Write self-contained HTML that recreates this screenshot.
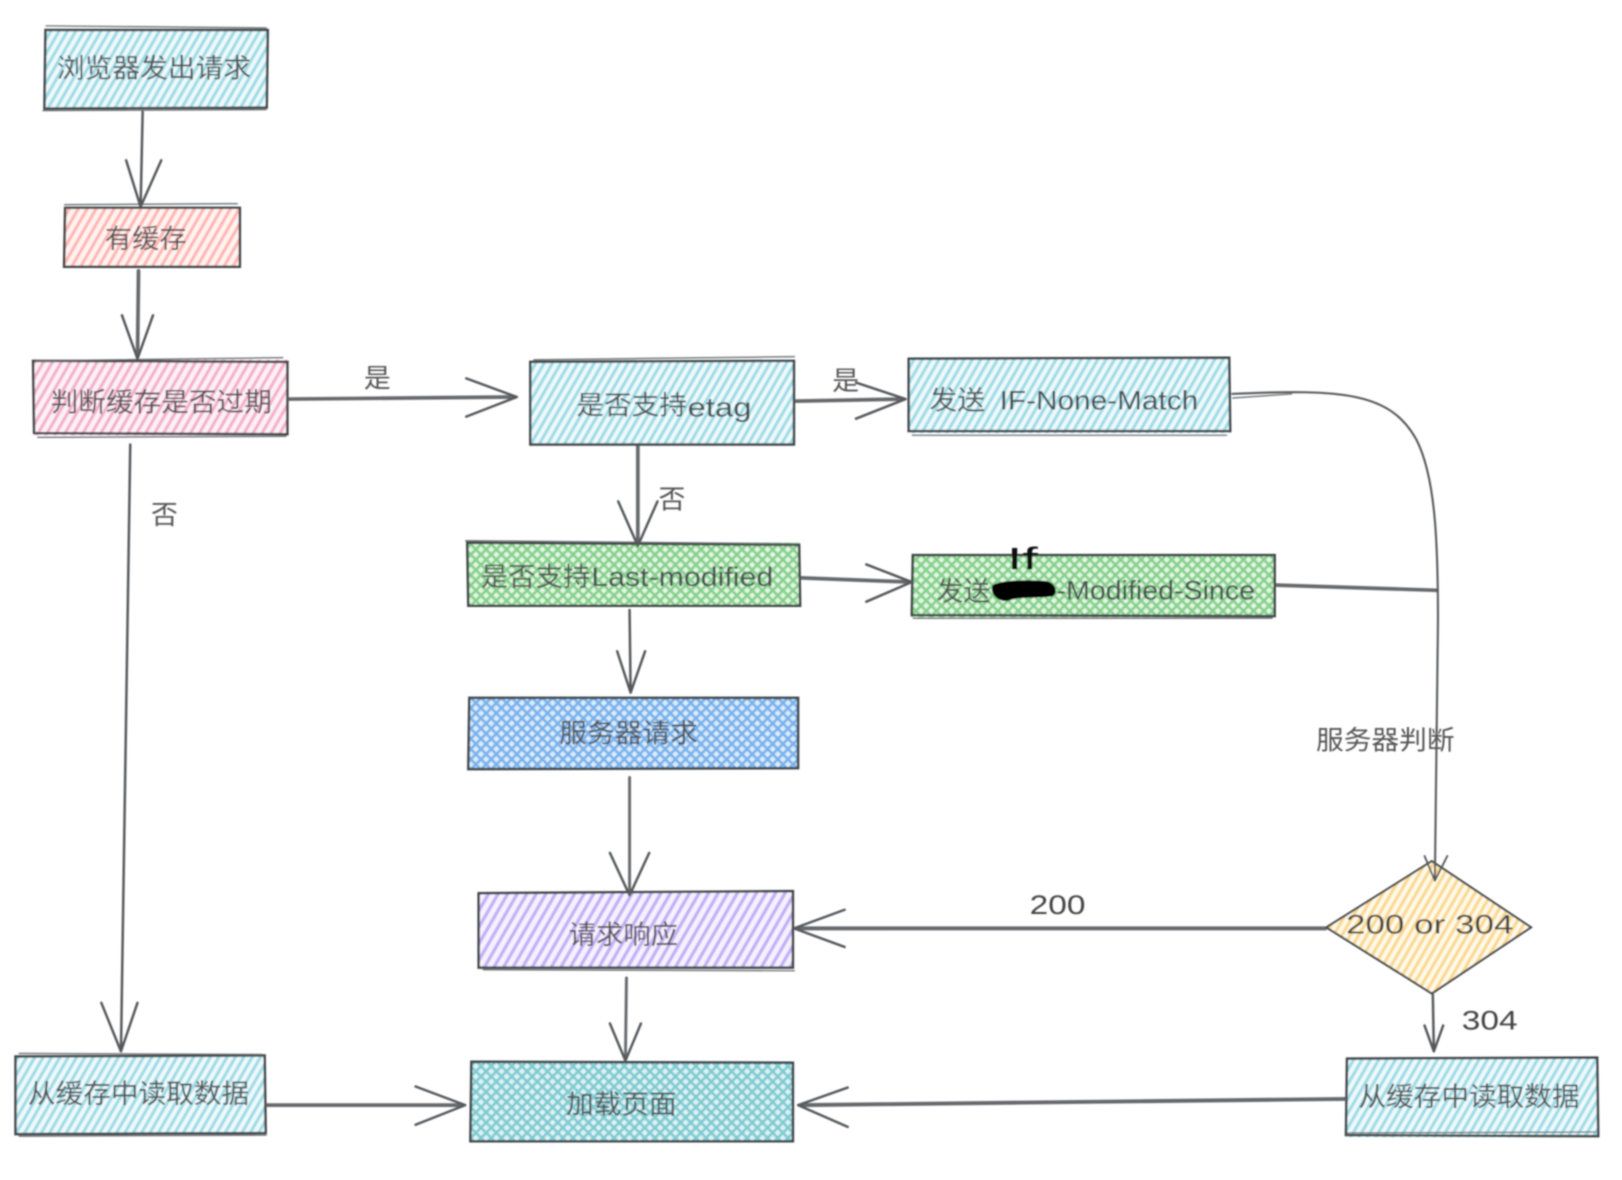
<!DOCTYPE html>
<html lang="zh">
<head>
<meta charset="utf-8">
<title>浏览器缓存流程</title>
<style>
html,body{margin:0;padding:0;background:#fff;width:1622px;height:1180px;overflow:hidden}
svg{display:block}
text{font-family:"Liberation Sans","Noto Sans CJK SC",sans-serif;fill:#555;font-size:26px;text-anchor:middle}
.h{font-family:"Liberation Sans","Noto Sans CJK SC",sans-serif;fill:#4a4d50}
.b{fill:none;stroke:#3f4447;stroke-width:2.4}
.c{fill:none;stroke:#6b6f72;stroke-width:1.3}
.a{fill:none;stroke:#55595c;stroke-width:2.4;stroke-linecap:round;stroke-linejoin:round}
.t{fill:none;stroke:#55595c;stroke-width:3.6;stroke-linecap:round;stroke-linejoin:round;opacity:.9}
</style>
</head>
<body>
<svg xmlns="http://www.w3.org/2000/svg" width="1622" height="1180" viewBox="0 0 1569 1141.4">
<defs>
<filter id="soft" x="-2%" y="-2%" width="104%" height="104%"><feGaussianBlur stdDeviation="0.7"/></filter>
<pattern id="cy" width="7" height="7" patternUnits="userSpaceOnUse" patternTransform="rotate(30)"><rect width="7" height="7" fill="#eef9fb"/><rect width="3" height="7" fill="#9fdbe7"/></pattern>
<pattern id="rd" width="7.5" height="7.5" patternUnits="userSpaceOnUse" patternTransform="rotate(30)"><rect width="7.5" height="7.5" fill="#fff3f2"/><rect width="3" height="7.5" fill="#ffb6b0"/></pattern>
<pattern id="pk" width="7.5" height="7.5" patternUnits="userSpaceOnUse" patternTransform="rotate(30)"><rect width="7.5" height="7.5" fill="#fdf1f5"/><rect width="3" height="7.5" fill="#f3b0ca"/></pattern>
<pattern id="pu" width="8" height="8" patternUnits="userSpaceOnUse" patternTransform="rotate(30)"><rect width="8" height="8" fill="#f5f1fe"/><rect width="3.2" height="8" fill="#c3b0f5"/></pattern>
<pattern id="ye" width="7" height="7" patternUnits="userSpaceOnUse" patternTransform="rotate(30)"><rect width="7" height="7" fill="#fff9ea"/><rect width="3" height="7" fill="#fad88e"/></pattern>
<pattern id="gr" width="7" height="7" patternUnits="userSpaceOnUse" patternTransform="rotate(45)"><rect width="7" height="7" fill="#e2f6e3"/><rect width="2.6" height="7" fill="#86d08c"/><rect width="7" height="2.6" fill="#86d08c"/></pattern>
<pattern id="bl" width="7" height="7" patternUnits="userSpaceOnUse" patternTransform="rotate(45)"><rect width="7" height="7" fill="#dcebfb"/><rect width="2.6" height="7" fill="#78b2ec"/><rect width="7" height="2.6" fill="#78b2ec"/></pattern>
<pattern id="te" width="7" height="7" patternUnits="userSpaceOnUse" patternTransform="rotate(45)"><rect width="7" height="7" fill="#def2f4"/><rect width="2.6" height="7" fill="#7fcbd2"/><rect width="7" height="2.6" fill="#7fcbd2"/></pattern>
</defs>
<rect width="1569" height="1142" fill="#fff"/>
<g filter="url(#soft)">

<!-- fills -->
<rect x="43" y="28" width="216" height="77" fill="url(#cy)"/>
<rect x="62" y="200" width="170" height="58" fill="url(#rd)"/>
<rect x="32" y="348" width="246" height="73" fill="url(#pk)"/>
<rect x="512" y="349" width="256" height="81" fill="url(#cy)"/>
<rect x="879" y="346" width="311" height="73" fill="url(#cy)"/>
<rect x="452" y="525" width="322" height="61" fill="url(#gr)"/>
<rect x="882" y="536" width="351" height="61" fill="url(#gr)"/>
<rect x="453" y="674" width="319" height="70" fill="url(#bl)"/>
<rect x="463" y="863" width="304" height="73" fill="url(#pu)"/>
<rect x="15" y="1021" width="241" height="76" fill="url(#cy)"/>
<rect x="456" y="1027" width="311" height="77" fill="url(#te)"/>
<rect x="1302" y="1024" width="243" height="76" fill="url(#cy)"/>
<polygon points="1283,897 1385,833 1481,897 1385,961" fill="url(#ye)"/>

<!-- borders -->
<path class="b" d="M44,29 L259,29 L258,104 L43,105 Z"/><path class="c" d="M44,25 L258,27 M41,107 L258,106"/>
<path class="b" d="M63,201 L232,201 L232,258 L62,258 Z"/><path class="c" d="M62,198 L230,197"/>
<path class="b" d="M32,349 L278,350 L278,420 L33,419 Z"/><path class="c" d="M34,349 L274,346 M36,423 L277,422"/>
<path class="b" d="M513,350 L768,349 L768,430 L513,430 Z"/><path class="c" d="M516,348 L769,345"/>
<path class="b" d="M879,347 L1189,346 L1190,417 L879,417 Z"/><path class="c" d="M882,421 L1187,421"/>
<path class="b" d="M452,525 L773,527 L774,586 L453,586 Z"/><path class="c" d="M450,523 L770,526"/>
<path class="b" d="M883,537 L1233,537 L1233,596 L882,595 Z"/><path class="c" d="M883,598 L1231,598"/>
<path class="b" d="M454,675 L772,675 L772,743 L453,744 Z"/>
<path class="b" d="M463,864 L767,862 L767,936 L463,936 Z"/><path class="c" d="M467,938 L769,939"/>
<path class="b" d="M15,1022 L256,1021 L257,1096 L15,1097 Z"/><path class="c" d="M18,1019 L254,1020 M18,1099 L258,1098"/>
<path class="b" d="M456,1027 L767,1028 L767,1104 L455,1104 Z"/>
<path class="b" d="M1303,1024 L1545,1023 L1546,1099 L1302,1098 Z"/><path class="c" d="M1303,1096 L1544,1095"/>
<path class="b" d="M1283,897 L1385,833 L1481,897 L1385,961 Z" style="stroke-width:2"/>

<!-- connectors -->
<path class="a" d="M138,108 L136,200 M122,155 L136,200 L156,155"/>
<path class="t" d="M134,262 L133,345"/><path class="a" d="M118,305 L133,347 L148,305"/>
<path class="t" d="M280,386 L498,384"/><path class="a" d="M451,366 L500,384 L451,403"/>
<path class="a" d="M126,430 L117,1017 M98,970 L117,1017 L133,970"/>
<path class="t" d="M770,388 L874,386"/><path class="a" d="M828,370 L876,386 L828,405"/>
<path class="t" d="M617,432 L617,526"/><path class="a" d="M598,485 L617,528 L636,485"/>
<path class="t" d="M775,559 L880,563"/><path class="a" d="M838,546 L882,563 L838,582"/>
<path class="a" d="M609,590 L610,670 M597,630 L610,670 L624,630"/>
<path class="t" d="M609,752 L609,864" style="stroke-width:2.8"/><path class="a" d="M590,825 L609,866 L628,825"/>
<path class="t" d="M606,946 L605,1024" style="stroke-width:2.8"/><path class="a" d="M590,990 L605,1026 L620,990"/>
<path class="t" d="M258,1069 L448,1069"/><path class="a" d="M402,1051 L450,1069 L402,1088"/>
<path class="a" style="stroke-width:2" d="M1192,381 C1300,376 1345,380 1370,425 C1388,460 1391,520 1391,600 L1388,850"/>
<path class="c" d="M1192,385 L1250,381"/>
<path class="a" style="stroke-width:1.8" d="M1378,828 L1388,852 L1400,828"/>
<path class="t" d="M1235,566 L1390,571"/>
<path class="t" d="M1282,898 L772,898" style="stroke-width:3.8"/><path class="a" d="M817,880 L768,898 L817,916"/>
<path class="a" d="M1386,962 L1387,1017 M1378,992 L1387,1017 L1396,992"/>
<path class="t" d="M1302,1063 L775,1069" style="stroke-width:3.8"/><path class="a" d="M820,1052 L772,1069 L820,1090"/>

<!-- box labels -->
<text x="149" y="75" textLength="188" lengthAdjust="spacingAndGlyphs">浏览器发出请求</text>
<text x="141" y="240" textLength="79" lengthAdjust="spacingAndGlyphs">有缓存</text>
<text x="156" y="398" textLength="214" lengthAdjust="spacingAndGlyphs">判断缓存是否过期</text>
<text x="611" y="401" textLength="107" lengthAdjust="spacingAndGlyphs">是否支持</text>
<text class="h" x="696" y="403" textLength="62" lengthAdjust="spacingAndGlyphs">etag</text>
<text x="926" y="396" textLength="54" lengthAdjust="spacingAndGlyphs">发送</text>
<text class="h" x="1063" y="396" textLength="192" lengthAdjust="spacingAndGlyphs">IF-None-Match</text>
<text x="518" y="567" textLength="106" lengthAdjust="spacingAndGlyphs">是否支持</text>
<text class="h" x="660" y="567" textLength="176" lengthAdjust="spacingAndGlyphs">Last-modified</text>
<text x="932" y="581" textLength="52" lengthAdjust="spacingAndGlyphs">发送</text>
<text class="h" x="1118" y="580" textLength="192" lengthAdjust="spacingAndGlyphs">-Modified-Since</text>
<path d="M960,566 C970,560 1000,561 1012,562 C1022,564 1024,574 1018,577 C1000,579 985,577 976,581 C966,583 957,575 960,566 Z" fill="#000"/>
<text class="h" x="989" y="551" textLength="30" lengthAdjust="spacingAndGlyphs" style="fill:#111;font-size:30px">If</text>
<text x="608" y="718" textLength="134" lengthAdjust="spacingAndGlyphs">服务器请求</text>
<text x="603" y="913" textLength="106" lengthAdjust="spacingAndGlyphs">请求响应</text>
<text x="134" y="1067" textLength="214" lengthAdjust="spacingAndGlyphs">从缓存中读取数据</text>
<text x="601" y="1077" textLength="107" lengthAdjust="spacingAndGlyphs">加载页面</text>
<text x="1421" y="1070" textLength="214" lengthAdjust="spacingAndGlyphs">从缓存中读取数据</text>
<text class="h" x="1383" y="903" textLength="162" lengthAdjust="spacingAndGlyphs" style="fill:#444">200 or 304</text>

<!-- connector labels -->
<text x="365" y="375">是</text>
<text x="818" y="377">是</text>
<text x="159" y="507">否</text>
<text x="650" y="492">否</text>
<text class="h" x="1023" y="884" textLength="54" lengthAdjust="spacingAndGlyphs" style="fill:#444">200</text>
<text class="h" x="1441" y="996" textLength="54" lengthAdjust="spacingAndGlyphs" style="fill:#444">304</text>
<text x="1340" y="725" textLength="134" lengthAdjust="spacingAndGlyphs">服务器判断</text>
</g>
</svg>
</body>
</html>
